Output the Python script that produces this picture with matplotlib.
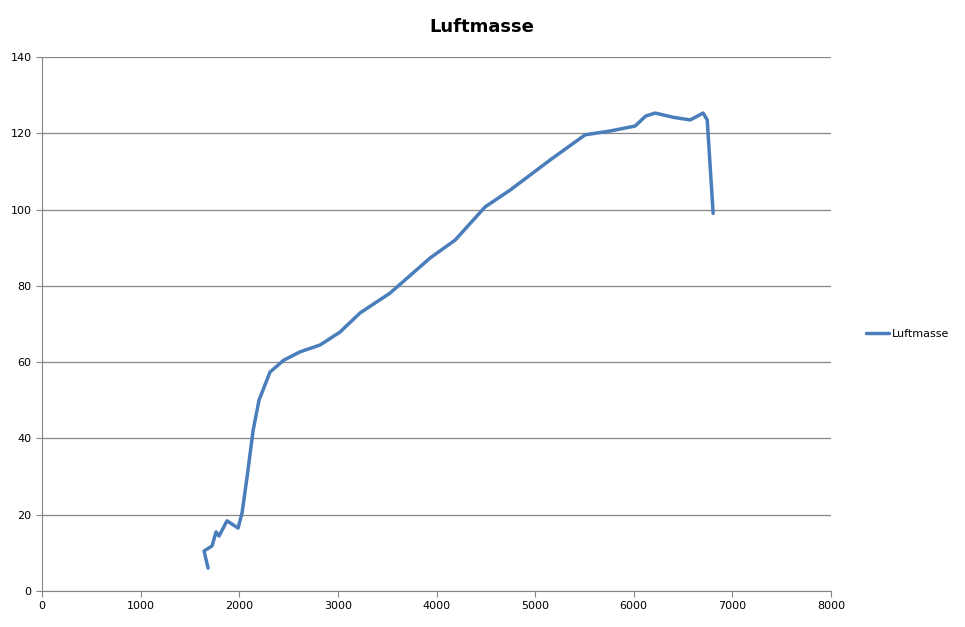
import matplotlib
matplotlib.use("Agg")
import matplotlib.pyplot as plt

rpm = [1684, 1643, 1724, 1765, 1795, 1876, 1988, 2028, 2080, 2140, 2200, 2312, 2450, 2617, 2820, 3022, 3225,
       3529, 3935, 4189, 4493, 4746, 5152, 5507, 5761, 6014, 6120, 6217, 6400, 6572, 6704, 6745, 6805]
luftmasse = [6.0, 10.5, 11.8, 15.5, 14.4, 18.4, 16.5, 20.4, 30, 42, 50, 57.4, 60.5, 62.7, 64.5, 67.9, 72.9,
             78.1, 87.3, 92.0, 100.7, 105.1, 113.0, 119.6, 120.6, 121.9, 124.5, 125.3, 124.2, 123.5, 125.3, 123.5, 99.0]

W, H = 965, 627
fig = plt.figure(figsize=(W/100, H/100), dpi=100)
ax = fig.add_axes([42/W, 1-591/H, (831-42)/W, (591-57)/H])
ax.plot(rpm, luftmasse, color="#4A7EBB", lw=2.5, label="Luftmasse",
        solid_joinstyle="round", solid_capstyle="round")
ax.set_xlim(0, 8000)
ax.set_ylim(0, 140)
ax.set_xticks(range(0, 8001, 1000))
ax.set_yticks(range(0, 141, 20))
ax.yaxis.grid(True, color="#868686", lw=0.9)
ax.set_axisbelow(True)
for s in ["top", "right"]:
    ax.spines[s].set_visible(False)
ax.spines["left"].set_color("#868686")
ax.spines["bottom"].set_color("#868686")
ax.tick_params(labelsize=8, color="#868686", length=4)
fig.text(482/W, 1-27/H, "Luftmasse", ha="center", va="center", fontsize=13, fontweight="bold")
fig.legend(loc="center left", bbox_to_anchor=(862/W, 1-334/H), frameon=False, fontsize=8,
           handlelength=2.0, handletextpad=0.3, borderaxespad=0)
fig.savefig("out.png", dpi=100)
